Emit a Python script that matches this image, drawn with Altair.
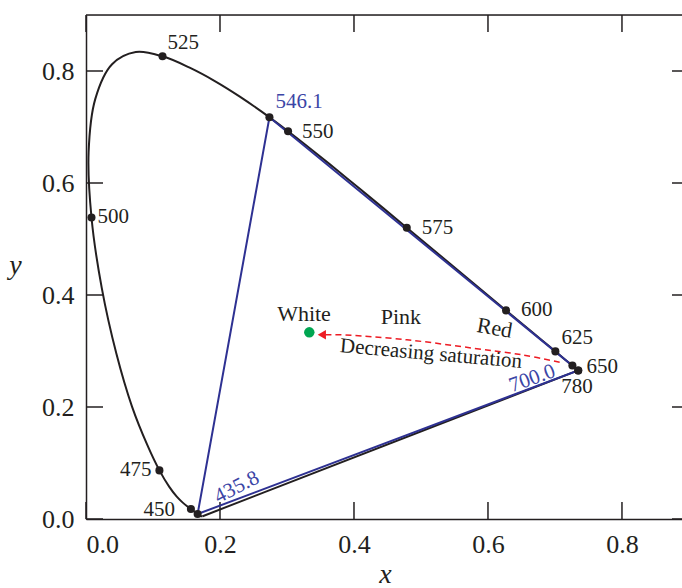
import altair as alt
import pandas as pd

# ---- data -------------------------------------------------------------
wavelength = [380, 385, 390, 395, 400, 405, 410, 415, 420, 425, 430, 435, 440, 445,
              450, 455, 460, 465, 470, 475, 480, 485, 490, 495, 500, 505, 510, 515,
              520, 525, 530, 535, 540, 545, 550, 555, 560, 565, 570, 575, 580, 585,
              590, 595, 600, 605, 610, 615, 620, 625, 630, 635, 640, 645, 650, 655,
              660, 665, 670, 680, 690, 700, 780]
locus_x = [0.1741, 0.1740, 0.1738, 0.1736, 0.1733, 0.1730, 0.1726, 0.1721, 0.1714,
           0.1703, 0.1689, 0.1669, 0.1644, 0.1611, 0.1566, 0.1510, 0.1440, 0.1355,
           0.1241, 0.1096, 0.0913, 0.0687, 0.0454, 0.0235, 0.0082, 0.0039, 0.0139,
           0.0389, 0.0743, 0.1142, 0.1547, 0.1929, 0.2296, 0.2658, 0.3016, 0.3373,
           0.3731, 0.4087, 0.4441, 0.4788, 0.5125, 0.5448, 0.5752, 0.6029, 0.6270,
           0.6482, 0.6658, 0.6801, 0.6915, 0.7006, 0.7079, 0.7140, 0.7190, 0.7230,
           0.7260, 0.7283, 0.7300, 0.7311, 0.7320, 0.7334, 0.7344, 0.7347, 0.7347]
locus_y = [0.0050, 0.0050, 0.0049, 0.0049, 0.0048, 0.0048, 0.0048, 0.0048, 0.0051,
           0.0058, 0.0069, 0.0086, 0.0109, 0.0138, 0.0177, 0.0227, 0.0297, 0.0399,
           0.0578, 0.0868, 0.1327, 0.2007, 0.2950, 0.4127, 0.5384, 0.6548, 0.7502,
           0.8120, 0.8338, 0.8262, 0.8059, 0.7816, 0.7543, 0.7243, 0.6923, 0.6589,
           0.6245, 0.5896, 0.5547, 0.5202, 0.4866, 0.4544, 0.4242, 0.3965, 0.3725,
           0.3514, 0.3340, 0.3197, 0.3083, 0.2993, 0.2920, 0.2859, 0.2809, 0.2770,
           0.2740, 0.2717, 0.2700, 0.2689, 0.2680, 0.2666, 0.2656, 0.2653, 0.2653]

marked_wl = [450, 475, 500, 525, 550, 575, 600, 625, 650, 780]

primary_label = ["435.8", "546.1", "700.0"]
primary_x = [0.1666, 0.2738, 0.7347]
primary_y = [0.0089, 0.7174, 0.2653]

white_x = [0.3333]
white_y = [0.3333]

arrow_x = [0.707, 0.652, 0.578, 0.479, 0.379, 0.357]
arrow_y = [0.280, 0.293, 0.305, 0.320, 0.329, 0.329]
arrow_tip_x = [0.352]
arrow_tip_y = [0.329]

annot_text = ["White", "Pink", "Red", "Decreasing saturation"]
annot_x = [0.3254, 0.470, 0.610, 0.515]
annot_y = [0.3661, 0.3607, 0.341, 0.2946]

tick_values = [0.0, 0.2, 0.4, 0.6, 0.8]

# ---- frames -----------------------------------------------------------
locus = pd.DataFrame({"wl": wavelength, "x": locus_x, "y": locus_y})
marked = locus[locus["wl"].isin(marked_wl)].copy()
marked["label"] = marked["wl"].astype(str)
purple = pd.DataFrame({"x": [locus_x[0], locus_x[-1]], "y": [locus_y[0], locus_y[-1]]})
prim = pd.DataFrame({"label": primary_label, "x": primary_x, "y": primary_y})
tri = pd.DataFrame({"x": primary_x + [primary_x[0]], "y": primary_y + [primary_y[0]],
                    "o": [0, 1, 2, 3]})
white = pd.DataFrame({"x": white_x, "y": white_y})
arrow = pd.DataFrame({"x": arrow_x, "y": arrow_y, "o": list(range(len(arrow_x)))})
tip = pd.DataFrame({"x": arrow_tip_x, "y": arrow_tip_y})
annot = pd.DataFrame({"text": annot_text, "x": annot_x, "y": annot_y})
ticks = pd.DataFrame({"x": tick_values, "y": tick_values})

W, H = 596, 504
FONT = "Liberation Serif"
INK = "#231f20"
BLUE = "#2e3192"
BLUE_TXT = "#3b45a6"

xs = alt.Scale(domain=[0, 0.8896], nice=False, zero=False)
ys = alt.Scale(domain=[0, 0.9], nice=False, zero=False)

xaxis = alt.Axis(values=tick_values, format=".1f", ticks=False, grid=False,
                 labelFontSize=26, labelFont=FONT, labelColor=INK, labelPadding=12,
                 domainColor=INK, domainWidth=1.5, title="x", titleFont=FONT,
                 titleFontSize=28, titleFontStyle="italic", titleFontWeight="normal",
                 titleColor=INK, titleX=299, titleY=63, titleBaseline="alphabetic",
                 titleAlign="center")
yaxis = alt.Axis(values=tick_values, format=".1f", ticks=False, grid=False,
                 labelFontSize=26, labelFont=FONT, labelColor=INK, labelPadding=12,
                 domainColor=INK, domainWidth=1.5, title="y", titleFont=FONT,
                 titleFontSize=28, titleFontStyle="italic", titleFontWeight="normal",
                 titleColor=INK, titleAngle=0, titleX=-71, titleY=250,
                 titleBaseline="middle", titleAlign="center")

X = alt.X("x:Q", scale=xs, axis=xaxis)
Y = alt.Y("y:Q", scale=ys, axis=yaxis)

layers = []

# frame: top border and inward ticks on four sides
layers.append(alt.Chart(ticks.head(1)).mark_rule(color=INK, strokeWidth=1.5).encode(
    x=alt.value(0), x2=alt.value(W), y=alt.value(0)))
layers.append(alt.Chart(ticks).mark_rule(color=INK, strokeWidth=1.5).encode(
    x=X, y=alt.value(H), y2=alt.value(H - 17)))
layers.append(alt.Chart(ticks).mark_rule(color=INK, strokeWidth=1.5).encode(
    x=X, y=alt.value(0), y2=alt.value(17)))
layers.append(alt.Chart(ticks).mark_rule(color=INK, strokeWidth=1.5).encode(
    y=Y, x=alt.value(0), x2=alt.value(17)))
layers.append(alt.Chart(ticks).mark_rule(color=INK, strokeWidth=1.5).encode(
    y=Y, x=alt.value(W - 10), x2=alt.value(W)))

# spectral locus and purple line
layers.append(alt.Chart(locus).mark_line(color=INK, strokeWidth=2, interpolate="catmull-rom").encode(
    x=X, y=Y, order="wl:Q"))
layers.append(alt.Chart(purple).mark_line(color=INK, strokeWidth=2).encode(x=X, y=Y))

# primaries triangle
layers.append(alt.Chart(tri).mark_line(color=BLUE, strokeWidth=2).encode(
    x=X, y=Y, order="o:Q"))

# dots
layers.append(alt.Chart(marked).mark_circle(color=INK, size=65, opacity=1).encode(x=X, y=Y))
layers.append(alt.Chart(prim).mark_circle(color=INK, size=65, opacity=1).encode(x=X, y=Y))

# wavelength labels
label_place = {
    "450": (-16, 1, "right"), "475": (-8, 0, "right"), "500": (6, 0, "left"),
    "525": (5, -13, "left"), "550": (14, 1, "left"), "575": (15, 0, "left"),
    "600": (15, 0, "left"), "625": (6, -13, "left"), "650": (14, 1, "left"),
    "780": (-17, 17, "left"),
}
for lab, (dx, dy, al) in label_place.items():
    layers.append(alt.Chart(marked).transform_filter(alt.datum.label == lab).mark_text(
        font=FONT, fontSize=21, color=INK, align=al, baseline="middle", dx=dx, dy=dy
    ).encode(x=X, y=Y, text="label:N"))

# primary labels
layers.append(alt.Chart(prim).transform_filter(alt.datum.label == "546.1").mark_text(
    font=FONT, fontSize=21, color=BLUE_TXT, align="left", baseline="middle", dx=6, dy=-15
).encode(x=X, y=Y, text="label:N"))
layers.append(alt.Chart(prim).transform_filter(alt.datum.label == "435.8").mark_text(
    font=FONT, fontSize=21, color=BLUE_TXT, align="center", baseline="middle",
    dx=47, dy=-6, angle=333
).encode(x=X, y=Y, text="label:N"))
layers.append(alt.Chart(prim).transform_filter(alt.datum.label == "700.0").mark_text(
    font=FONT, fontSize=21, color=BLUE_TXT, align="center", baseline="middle",
    dx=-46, dy=-8, angle=340
).encode(x=X, y=Y, text="label:N"))

# white point, arrow
layers.append(alt.Chart(arrow).mark_line(color="#ed1c24", strokeWidth=1.5, strokeDash=[6, 4],
                                          interpolate="catmull-rom").encode(x=X, y=Y, order="o:Q"))
layers.append(alt.Chart(tip).mark_point(shape="triangle-left", filled=True, color="#ed1c24",
                                        size=90, opacity=1).encode(x=X, y=Y))
layers.append(alt.Chart(white).mark_circle(color="#00a651", size=110, opacity=1).encode(x=X, y=Y))

# annotations
ann_style = {"White": (22, 0), "Pink": (22, 0), "Red": (22, 10), "Decreasing saturation": (21, 5)}
for t, (fs, ang) in ann_style.items():
    layers.append(alt.Chart(annot).transform_filter(alt.datum.text == t).mark_text(
        font=FONT, fontSize=fs, color=INK, align="center", baseline="middle", angle=ang
    ).encode(x=X, y=Y, text="text:N"))

chart = alt.layer(*layers).properties(
    width=W, height=H,
    autosize=alt.AutoSizeParams(type="none"),
    padding={"left": 86, "top": 15, "right": 0, "bottom": 69},
).configure_view(stroke=None).configure(background="white")

chart.save("out.html", embed_options={"renderer": "svg", "actions": False})
